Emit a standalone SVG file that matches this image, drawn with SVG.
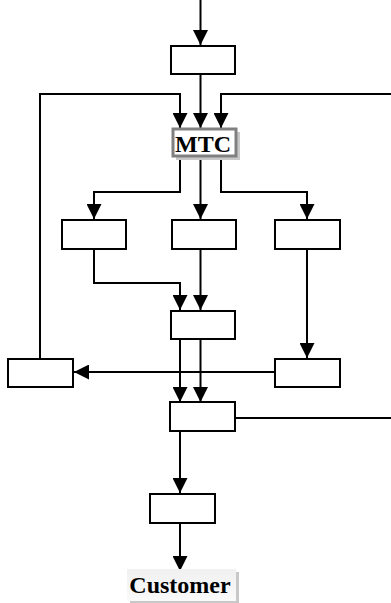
<svg xmlns="http://www.w3.org/2000/svg" width="391" height="603" viewBox="0 0 391 603">
<style>
.box{fill:#fff;stroke:#000;stroke-width:2}
.ln{fill:none;stroke:#000;stroke-width:2}
.arr{marker-end:url(#ah)}
.lbl{font-family:"Liberation Serif","Times New Roman",serif;font-weight:bold;font-size:24px;fill:#000;text-anchor:middle}
</style>
<defs>
<marker id="ah" markerUnits="userSpaceOnUse" markerWidth="15" markerHeight="15" refX="14" refY="7" orient="auto" viewBox="0 0 14 14">
<path d="M0,0 L14,7 L0,14 z" fill="#000"/>
</marker>
<linearGradient id="cg" x1="0" y1="0" x2="0" y2="1">
<stop offset="0" stop-color="#f0f0f0"/>
<stop offset="1" stop-color="#fafafa"/>
</linearGradient>
</defs>
<g id="connectors">
<path class="ln arr" d="M200.5,0 V45"/>
<path class="ln arr" d="M200.5,74 V128"/>
<path class="ln arr" d="M40,358 V94 H180 V128"/>
<path class="ln arr" d="M391,94 H221 V128"/>
<path class="ln arr" d="M180,157 V192 H94 V219"/>
<path class="ln arr" d="M200.5,157 V219"/>
<path class="ln arr" d="M221,157 V192 H307 V219"/>
<path class="ln arr" d="M94,249 V283 H180 V310"/>
<path class="ln arr" d="M200.5,249 V310"/>
<path class="ln arr" d="M307,249 V358"/>
<path class="ln arr" d="M275,372 H74"/>
<path class="ln arr" d="M180,339 V402"/>
<path class="ln arr" d="M200.5,339 V402"/>
<path class="ln" d="M235,418 H391"/>
<path class="ln arr" d="M180,431 V493"/>
<path class="ln arr" d="M180,523 V571"/>
</g>
<g id="n1"><rect class="box" x="171" y="46" width="64" height="28"/></g>
<g id="mtc">
<rect x="176" y="132" width="64" height="28" fill="#c8c8c8"/>
<rect x="173" y="129" width="63" height="27" fill="#fff" stroke="#808080" stroke-width="3"/>
<text class="lbl" x="203" y="152">MTC</text>
</g>
<g id="n2"><rect class="box" x="62" y="220" width="64" height="29"/></g>
<g id="n3"><rect class="box" x="172" y="220" width="64" height="29"/></g>
<g id="n4"><rect class="box" x="275" y="220" width="65" height="29"/></g>
<g id="n5"><rect class="box" x="171" y="311" width="64" height="28"/></g>
<g id="n6"><rect class="box" x="8" y="359" width="65" height="28"/></g>
<g id="n7"><rect class="box" x="275" y="359" width="65" height="28"/></g>
<g id="n8"><rect class="box" x="170" y="402" width="65" height="29"/></g>
<g id="n9"><rect class="box" x="150" y="494" width="65" height="29"/></g>
<g id="customer">
<rect x="130" y="572" width="109" height="32" fill="#c8c8c8"/>
<rect x="127" y="569" width="109" height="32" fill="url(#cg)"/>
<text class="lbl" x="180" y="593">Customer</text>
</g>
</svg>
